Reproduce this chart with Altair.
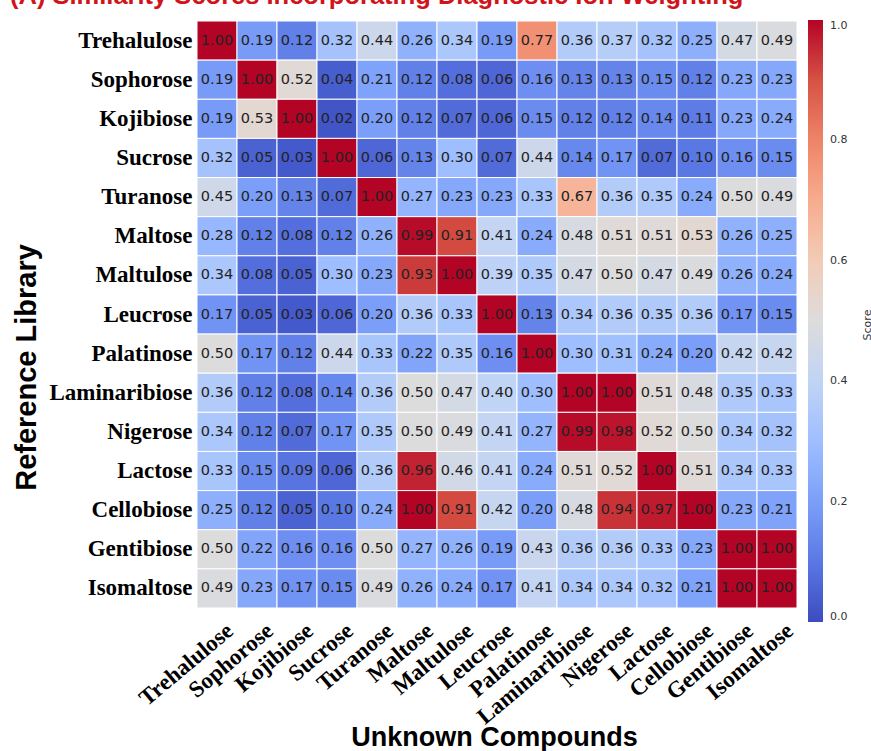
import altair as alt
import pandas as pd

# Disaccharide names, used for both the reference library (rows) and the unknowns (columns)
sugars = [
    "Trehalulose", "Sophorose", "Kojibiose", "Sucrose", "Turanose",
    "Maltose", "Maltulose", "Leucrose", "Palatinose", "Laminaribiose",
    "Nigerose", "Lactose", "Cellobiose", "Gentibiose", "Isomaltose",
]

# Similarity scores, one list per reference compound (columns follow `sugars`)
trehalulose = [1.00, 0.19, 0.12, 0.32, 0.44, 0.26, 0.34, 0.19, 0.77, 0.36, 0.37, 0.32, 0.25, 0.47, 0.49]
sophorose = [0.19, 1.00, 0.52, 0.04, 0.21, 0.12, 0.08, 0.06, 0.16, 0.13, 0.13, 0.15, 0.12, 0.23, 0.23]
kojibiose = [0.19, 0.53, 1.00, 0.02, 0.20, 0.12, 0.07, 0.06, 0.15, 0.12, 0.12, 0.14, 0.11, 0.23, 0.24]
sucrose = [0.32, 0.05, 0.03, 1.00, 0.06, 0.13, 0.30, 0.07, 0.44, 0.14, 0.17, 0.07, 0.10, 0.16, 0.15]
turanose = [0.45, 0.20, 0.13, 0.07, 1.00, 0.27, 0.23, 0.23, 0.33, 0.67, 0.36, 0.35, 0.24, 0.50, 0.49]
maltose = [0.28, 0.12, 0.08, 0.12, 0.26, 0.99, 0.91, 0.41, 0.24, 0.48, 0.51, 0.51, 0.53, 0.26, 0.25]
maltulose = [0.34, 0.08, 0.05, 0.30, 0.23, 0.93, 1.00, 0.39, 0.35, 0.47, 0.50, 0.47, 0.49, 0.26, 0.24]
leucrose = [0.17, 0.05, 0.03, 0.06, 0.20, 0.36, 0.33, 1.00, 0.13, 0.34, 0.36, 0.35, 0.36, 0.17, 0.15]
palatinose = [0.50, 0.17, 0.12, 0.44, 0.33, 0.22, 0.35, 0.16, 1.00, 0.30, 0.31, 0.24, 0.20, 0.42, 0.42]
laminaribiose = [0.36, 0.12, 0.08, 0.14, 0.36, 0.50, 0.47, 0.40, 0.30, 1.00, 1.00, 0.51, 0.48, 0.35, 0.33]
nigerose = [0.34, 0.12, 0.07, 0.17, 0.35, 0.50, 0.49, 0.41, 0.27, 0.99, 0.98, 0.52, 0.50, 0.34, 0.32]
lactose = [0.33, 0.15, 0.09, 0.06, 0.36, 0.96, 0.46, 0.41, 0.24, 0.51, 0.52, 1.00, 0.51, 0.34, 0.33]
cellobiose = [0.25, 0.12, 0.05, 0.10, 0.24, 1.00, 0.91, 0.42, 0.20, 0.48, 0.94, 0.97, 1.00, 0.23, 0.21]
gentibiose = [0.50, 0.22, 0.16, 0.16, 0.50, 0.27, 0.26, 0.19, 0.43, 0.36, 0.36, 0.33, 0.23, 1.00, 1.00]
isomaltose = [0.49, 0.23, 0.17, 0.15, 0.49, 0.26, 0.24, 0.17, 0.41, 0.34, 0.34, 0.32, 0.21, 1.00, 1.00]

score_rows = [
    trehalulose, sophorose, kojibiose, sucrose, turanose, maltose, maltulose,
    leucrose, palatinose, laminaribiose, nigerose, lactose, cellobiose,
    gentibiose, isomaltose,
]

# Coolwarm colour map sampled at 11 evenly spaced stops
cw_stops = [0.0, 0.1, 0.2, 0.3, 0.4, 0.5, 0.6, 0.7, 0.8, 0.9, 1.0]
cw_colors = ["#3b4cc0", "#5a78e4", "#7b9ff9", "#9ebeff", "#c0d4f5", "#dddcdc",
             "#f2cbb7", "#f7ac8e", "#ee8468", "#d65244", "#b40426"]
cbar_ticks = [0.0, 0.2, 0.4, 0.6, 0.8, 1.0]

title_text = "(A) Similarity Scores Incorporating Diagnostic Ion Weighting"

records = []
for ref, row in zip(sugars, score_rows):
    for unk, val in zip(sugars, row):
        records.append({"reference": ref, "unknown": unk, "score": val})
df = pd.DataFrame(records)

W, H = 600, 587
PAD_L, PAD_T = 197, 21

x_enc = alt.X(
    "unknown:N", sort=sugars,
    scale=alt.Scale(paddingInner=0, paddingOuter=0),
    axis=alt.Axis(
        title="Unknown Compounds", titleFont="Liberation Sans", titleFontSize=27,
        titleFontWeight="bold", titleColor="black", titleX=297, titleY=137,
        titleAlign="center", titleBaseline="alphabetic",
        labelFont="Liberation Serif", labelFontWeight="bold", labelFontSize=23,
        labelColor="black", labelAngle=320, labelAlign="right", labelBaseline="top",
        labelPadding=11, labelOffset=6, ticks=False, domain=False, labelLimit=300,
    ),
)
y_enc = alt.Y(
    "reference:N", sort=sugars,
    scale=alt.Scale(paddingInner=0, paddingOuter=0),
    axis=alt.Axis(
        title="Reference Library", titleFont="Liberation Sans", titleFontSize=29,
        titleFontWeight="bold", titleColor="black", titleX=-171, titleY=346,
        titleAngle=270, titleAlign="center", titleBaseline="middle",
        labelFont="Liberation Serif", labelFontWeight="bold", labelFontSize=23,
        labelColor="black", labelPadding=5, ticks=False, domain=False, labelLimit=300,
    ),
)

heat = alt.Chart(df).mark_rect(stroke="white", strokeWidth=1).encode(
    x=x_enc,
    y=y_enc,
    color=alt.Color(
        "score:Q",
        scale=alt.Scale(domain=cw_stops, range=cw_colors, interpolate="rgb"),
        legend=alt.Legend(
            orient="none", legendX=611, legendY=-1, direction="vertical",
            gradientLength=602, gradientThickness=15, title=None,
            values=cbar_ticks, format=".1f", labelFont="DejaVu Sans",
            labelFontSize=11, labelColor="#333333", labelOffset=7,
        ),
    ),
)

annot = alt.Chart(df).mark_text(font="DejaVu Sans", fontSize=14.5, color="#222222").encode(
    x=alt.X("unknown:N", sort=sugars),
    y=alt.Y("reference:N", sort=sugars),
    text=alt.Text("score:Q", format=".2f"),
)

headline = alt.Chart(pd.DataFrame({"label": [title_text]})).mark_text(
    font="Liberation Sans", fontSize=25.5, fontWeight="bold", color="#d0141c",
    align="left", baseline="alphabetic",
).encode(x=alt.value(10 - PAD_L), y=alt.value(4 - PAD_T), text="label:N")

cbar_label = alt.Chart(pd.DataFrame({"label": ["Score"]})).mark_text(
    font="DejaVu Sans", fontSize=11, color="#333333", angle=270,
    align="center", baseline="middle",
).encode(x=alt.value(868 - PAD_L), y=alt.value(325 - PAD_T), text="label:N")

chart = alt.layer(heat, annot, headline, cbar_label).properties(
    width=W, height=H,
    padding={"left": PAD_L, "top": PAD_T, "right": 871 - PAD_L - W, "bottom": 751 - PAD_T - H},
    autosize=alt.AutoSizeParams(type="none"),
    background="white",
).configure_view(strokeWidth=0)

chart.save("out.html", embed_options={"renderer": "svg", "actions": False})
